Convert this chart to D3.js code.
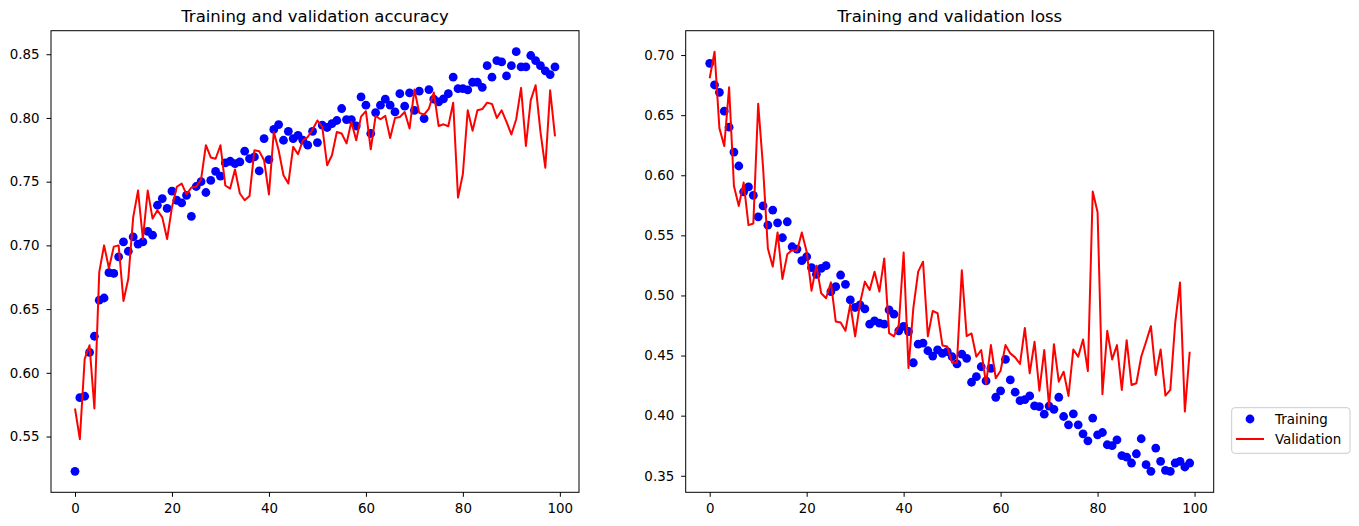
<!DOCTYPE html>
<html>
<head>
<meta charset="utf-8">
<script src="https://cdn.jsdelivr.net/npm/d3@7"></script>
<style>
  html, body { margin: 0; padding: 0; background: #fff; }
  svg { display: block; font-family: "DejaVu Sans", sans-serif; }
</style>
</head>
<body>
<svg id="chart" width="1359" height="526"></svg>
<script>
// ---- data ----
const trainAcc = [0.5227,0.5805,0.5816,0.616,0.6287,0.657,0.6587,0.6786,0.678,0.691,
  0.7027,0.6954,0.7066,0.701,0.7027,0.711,0.708,0.7315,0.7367,0.729,
  0.7425,0.7354,0.7333,0.7393,0.7228,0.7462,0.750,0.7415,0.751,0.758,
  0.7543,0.7647,0.766,0.7642,0.7655,0.7739,0.768,0.7694,0.7584,0.7838,
  0.7673,0.791,0.7948,0.7825,0.7895,0.7838,0.7864,0.7825,0.7786,0.7895,
  0.7807,0.7943,0.7925,0.7956,0.798,0.8074,0.7987,0.7987,0.7937,0.8165,
  0.810,0.7878,0.8042,0.810,0.8147,0.810,0.8047,0.819,0.8092,0.8196,
  0.806,0.821,0.7995,0.8223,0.8147,0.8126,0.815,0.819,0.832,0.823,
  0.823,0.822,0.828,0.828,0.824,0.841,0.832,0.845,0.844,0.833,
  0.841,0.852,0.840,0.840,0.849,0.845,0.841,0.837,0.834,0.840];
const valAcc = [0.572,0.548,0.611,0.6216,0.572,0.679,0.700,0.682,0.699,0.700,
  0.6564,0.674,0.722,0.743,0.705,0.743,0.721,0.7276,0.722,0.705,
  0.730,0.746,0.7485,0.740,0.7454,0.746,0.7516,0.7786,0.769,0.768,
  0.7786,0.747,0.7446,0.7595,0.7407,0.7354,0.7388,0.7746,0.7739,0.7668,
  0.740,0.789,0.7746,0.755,0.7485,0.7773,0.7715,0.7825,0.785,0.791,
  0.798,0.793,0.7629,0.7707,0.789,0.7878,0.780,0.797,0.7825,0.801,
  0.8053,0.7754,0.8016,0.799,0.8016,0.7843,0.800,0.8008,0.8047,0.7917,
  0.8223,0.804,0.8027,0.8074,0.820,0.7937,0.795,0.7935,0.812,0.7375,
  0.756,0.806,0.790,0.806,0.807,0.812,0.811,0.800,0.806,0.797,
  0.787,0.799,0.8236,0.778,0.814,0.8257,0.789,0.761,0.8217,0.7856];
const trainLoss = [0.6931,0.6751,0.669,0.6533,0.640,0.6193,0.6077,0.5862,0.5903,0.5833,
  0.5654,0.5745,0.5585,0.571,0.5604,0.548,0.5613,0.5405,0.5386,0.5289,
  0.5322,0.5231,0.5176,0.5225,0.5248,0.5032,0.5074,0.517,0.5093,0.4963,
  0.490,0.4921,0.4888,0.4761,0.4789,0.477,0.4761,0.488,0.4844,0.4706,
  0.4742,0.470,0.444,0.4595,0.4604,0.454,0.4496,0.4548,0.4518,0.4532,
  0.449,0.443,0.4512,0.4477,0.4278,0.4324,0.4407,0.4289,0.4394,0.4153,
  0.4206,0.4468,0.4297,0.4195,0.4125,0.4134,0.4164,0.4081,0.4075,0.4012,
  0.408,0.4053,0.4153,0.3993,0.3924,0.4015,0.3924,0.3849,0.3791,0.398,
  0.3841,0.386,0.3758,0.375,0.3799,0.3667,0.3655,0.3606,0.3683,0.3808,
  0.3592,0.3537,0.373,0.362,0.3545,0.3537,0.3606,0.362,0.3573,0.3606];
const valLoss = [0.6807,0.7028,0.6392,0.6243,0.6732,0.5911,0.5745,0.5939,0.5585,0.5599,
  0.6594,0.607,0.539,0.524,0.5524,0.5137,0.5342,0.5378,0.537,0.5524,
  0.5364,0.504,0.5248,0.5018,0.4977,0.5109,0.4783,0.4775,0.4706,0.4927,
  0.4659,0.4935,0.5115,0.5046,0.5198,0.5032,0.5308,0.4687,0.466,0.4756,
  0.5358,0.4396,0.4894,0.5198,0.5281,0.466,0.4871,0.4852,0.4584,0.4576,
  0.444,0.444,0.5209,0.4662,0.4684,0.449,0.4546,0.4264,0.4587,0.4311,
  0.4374,0.4587,0.4518,0.4485,0.443,0.473,0.4352,0.4615,0.4208,0.4546,
  0.4076,0.4595,0.4283,0.4366,0.4164,0.4551,0.449,0.4634,0.4371,0.5864,
  0.5693,0.4178,0.4706,0.4468,0.4587,0.4214,0.4628,0.4255,0.427,0.449,
  0.4615,0.4745,0.4338,0.4551,0.4167,0.4214,0.4767,0.5107,0.4034,0.4532];
const xTicks = [0, 20, 40, 60, 80, 100];
const accTicks = [0.55, 0.60, 0.65, 0.70, 0.75, 0.80, 0.85];
const lossTicks = [0.35, 0.40, 0.45, 0.50, 0.55, 0.60, 0.65, 0.70];
const titles = ["Training and validation accuracy", "Training and validation loss"];
const legendLabels = ["Training", "Validation"];

// ---- layout ----
const svg = d3.select("#chart");
const plotTop = 30.7, plotBottom = 492.3;
const panels = [
  {x0: 51, x1: 579, title: titles[0], train: trainAcc, val: valAcc, yTicks: accTicks},
  {x0: 685.7, x1: 1213.7, title: titles[1], train: trainLoss, val: valLoss, yTicks: lossTicks}
];
const FONT = "DejaVu Sans, sans-serif";

panels.forEach(p => {
  const n = p.train.length;
  const xpad = (n - 1) * 0.05;
  const x = d3.scaleLinear().domain([-xpad, n - 1 + xpad]).range([p.x0, p.x1]);
  const all = p.train.concat(p.val);
  const [mn, mx] = d3.extent(all);
  const ypad = (mx - mn) * 0.05;
  const y = d3.scaleLinear().domain([mn - ypad, mx + ypad]).range([plotBottom, plotTop]);

  const g = svg.append("g");

  const xa = g.append("g").attr("transform", `translate(0,${plotBottom})`)
    .call(d3.axisBottom(x).tickValues(xTicks).tickFormat(d3.format("d")).tickSize(4.5).tickPadding(6.5));
  const ya = g.append("g").attr("transform", `translate(${p.x0},0)`)
    .call(d3.axisLeft(y).tickValues(p.yTicks).tickFormat(d3.format(".2f")).tickSize(4.5).tickPadding(7));
  [xa, ya].forEach(a => {
    a.select(".domain").remove();
    a.attr("font-family", FONT).attr("font-size", 13.4);
    a.selectAll("line").attr("stroke", "#000").attr("stroke-width", 1);
    a.selectAll("text").attr("fill", "#000");
  });

  g.append("g").selectAll("circle").data(p.train).join("circle")
    .attr("cx", (d, i) => x(i)).attr("cy", d => y(d)).attr("r", 4.4)
    .attr("fill", "#0000ff");

  g.append("path").datum(p.val)
    .attr("fill", "none").attr("stroke", "#ff0000").attr("stroke-width", 2)
    .attr("stroke-linejoin", "round")
    .attr("d", d3.line().x((d, i) => x(i)).y(d => y(d)));

  g.append("rect").attr("x", p.x0).attr("y", plotTop)
    .attr("width", p.x1 - p.x0).attr("height", plotBottom - plotTop)
    .attr("fill", "none").attr("stroke", "#000").attr("stroke-width", 1);

  g.append("text").attr("x", (p.x0 + p.x1) / 2).attr("y", 22)
    .attr("text-anchor", "middle").attr("font-family", FONT).attr("font-size", 16.5)
    .attr("fill", "#000").text(p.title);
});

// legend
const lg = svg.append("g");
lg.append("rect").attr("x", 1231.7).attr("y", 407.7).attr("width", 118.3).attr("height", 45.6)
  .attr("rx", 3).attr("fill", "#fff").attr("fill-opacity", 0.8)
  .attr("stroke", "#cccccc").attr("stroke-width", 1);
lg.append("circle").attr("cx", 1250).attr("cy", 419).attr("r", 4.4).attr("fill", "#0000ff");
lg.append("line").attr("x1", 1236).attr("x2", 1264).attr("y1", 439).attr("y2", 439)
  .attr("stroke", "#ff0000").attr("stroke-width", 2);
lg.selectAll("text.lab").data(legendLabels).join("text").attr("class", "lab")
  .attr("x", 1275).attr("y", (d, i) => 423.8 + i * 20.5)
  .attr("font-family", FONT).attr("font-size", 13.4).attr("fill", "#000")
  .text(d => d);
</script>
</body>
</html>
